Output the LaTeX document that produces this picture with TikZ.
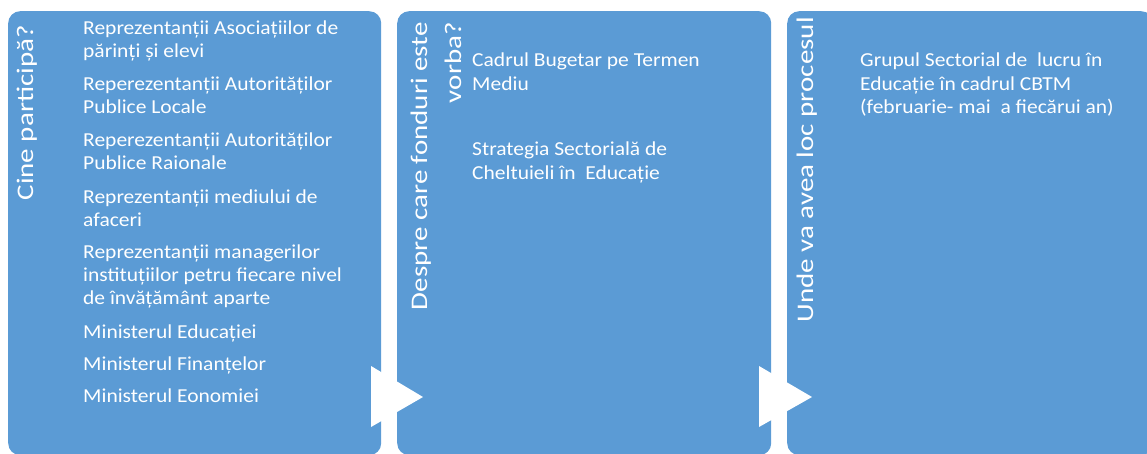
\documentclass[tikz,border=0pt]{standalone}
\usepackage{fontspec}
\setmainfont{Carlito}
\usepackage{graphicx}
\definecolor{panelblue}{HTML}{5B9BD5}
\begin{document}
\begin{tikzpicture}[x=1pt,y=-1pt,
  panel/.style={fill=panelblue, draw=none, rounded corners=12pt, anchor=north west, inner sep=0pt},
  body/.style={text=white, inner sep=0pt, anchor=base west, font=\fontsize{21.5}{23.5}\selectfont},
  ttl/.style={text=white, inner sep=0pt, rotate=90, anchor=base east, font=\fontsize{29}{34}\selectfont},
  arrowtri/.style={fill=white, draw=none}]
\useasboundingbox (0,0) rectangle (1147,453);
\clip (0,0) rectangle (1147,453);
% panels
\node[panel, minimum width=373pt, minimum height=444pt] (p1) at (8,11) {};
\node[panel, minimum width=374pt, minimum height=444pt] (p2) at (397,11) {};
\node[panel, minimum width=366pt, minimum height=444pt] (p3) at (787,11) {};
% arrow triangles
\fill[arrowtri] (371,366) -- (423,397) -- (371,427) -- cycle;
\fill[arrowtri] (759,366) -- (812,397) -- (759,427) -- cycle;
% titles
\node[ttl] (t1) at (33,25) {\scalebox{1}[0.82]{Cine participă?}};
\node[ttl] (t2a) at (427,22) {\scalebox{1}[0.82]{Despre care fonduri este}};
\node[ttl] (t2b) at (461,22) {\scalebox{1}[0.82]{vorba?}};
\node[ttl] (t3) at (813,17) {\scalebox{1}[0.82]{Unde va avea loc procesul}};
% panel 1 items
\foreach \y/\t [count=\i] in {
  34.3/Reprezentanții Asociațiilor de,
  57.8/părinți și elevi,
  90/Reperezentanții Autorităților,
  113.3/Publice Locale,
  146.7/Reperezentanții Autorităților,
  169.3/Publice Raionale,
  203.3/Reprezentanții mediului de,
  226/afaceri,
  258.3/Reprezentanții managerilor,
  281.5/instituțiilor petru fiecare nivel,
  304.5/de învățământ aparte,
  338.3/Ministerul Educației,
  370.5/Ministerul Finanțelor,
  402.7/Ministerul Eonomiei}
  \node[body] (a\i) at (83,\y) {\scalebox{1}[0.92]{\t}};
% panel 2 items
\foreach \y/\t [count=\i] in {
  66.7/Cadrul Bugetar pe Termen,
  90/Mediu,
  155/Strategia Sectorială de,
  179/Cheltuieli în~ Educație}
  \node[body] (b\i) at (472,\y) {\scalebox{1}[0.92]{\t}};
% panel 3 items
\foreach \y/\t [count=\i] in {
  66.7/Grupul Sectorial de~ lucru în,
  90/Educație în cadrul CBTM,
  113/(februarie- mai~ a fiecărui an)}
  \node[body] (c\i) at (860,\y) {\scalebox{1}[0.92]{\t}};
\end{tikzpicture}
\end{document}
